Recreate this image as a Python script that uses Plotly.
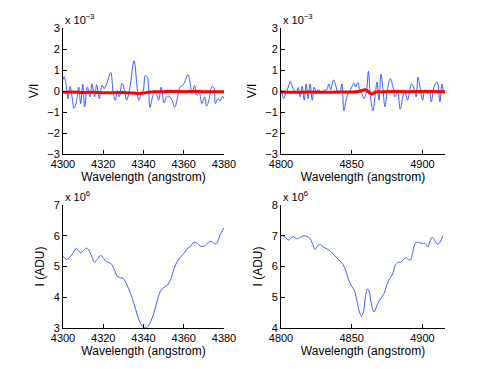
import plotly.graph_objects as go

# ---- top-left: V/I around H-gamma (units of 1e-3) ----
vi_left_wl = [4300.0, 4300.5, 4301.5, 4302.5, 4303.5, 4304.5, 4305.5, 4306.8, 4307.8, 4308.8,
              4309.8, 4310.8, 4312.1, 4313.4, 4314.4, 4315.7, 4316.7, 4318.0, 4319.4, 4320.4,
              4321.7, 4323.7, 4325.0, 4326.0, 4327.0, 4328.0, 4329.3, 4330.6, 4331.6, 4333.0,
              4335.3, 4336.6, 4337.6, 4338.9, 4339.9, 4340.9, 4341.9, 4343.2, 4344.5, 4345.8,
              4347.5, 4348.8, 4350.2, 4351.5, 4352.8, 4354.2, 4355.5, 4356.8, 4358.1, 4359.5,
              4360.8, 4362.1, 4363.1, 4364.1, 4365.4, 4366.4, 4367.7, 4369.0, 4370.4, 4371.4,
              4372.7, 4374.0, 4375.0, 4375.7, 4377.0, 4378.0, 4379.3, 4380.0]
vi_left = [0.55, 0.69, 0.34, -0.36, 0.22, -0.30, -0.83, -0.44, 0.19, -0.60,
           0.34, -0.75, 0.19, -0.28, 0.34, -0.28, 0.30, -0.36, 0.27, 0.11,
           0.34, 0.89, -0.12, -0.44, 0.03, -0.28, 0.37, 0.03, -0.44, 0.03,
           1.44, 0.42, -0.44, -0.12, 0.03, 0.73, 0.66, -0.78, -0.28, 0.03,
           -0.44, 0.19, -0.56, -0.28, -0.25, -0.44, -0.78, -0.36, 0.19, 0.27,
           0.50, 0.78, 0.42, -0.12, 0.27, -0.20, -0.09, -0.60, -0.28, -0.72,
           -0.36, 0.22, 0.16, -0.60, -0.36, -0.47, -0.25, -0.36]
vi_left_model_wl = [4300, 4305, 4310, 4315, 4320, 4325, 4330, 4335, 4338, 4341,
                    4345, 4350, 4355, 4360, 4365, 4370, 4380]
vi_left_model = [-0.06, -0.05, -0.07, -0.06, -0.08, -0.08, -0.07, -0.10, -0.12, -0.08,
                 -0.04, -0.03, -0.02, -0.03, -0.02, -0.03, -0.03]

# ---- top-right: V/I around H-beta (units of 1e-3) ----
vi_right_wl = [4800.5, 4801.9, 4803.3, 4805.2, 4806.6, 4808.0, 4809.4, 4810.8, 4812.2, 4813.6,
               4815.0, 4816.4, 4817.8, 4819.2, 4820.6, 4822.1, 4823.5, 4824.9, 4826.2, 4828.6,
               4830.5, 4832.4, 4833.8, 4835.2, 4837.1, 4839.0, 4840.4, 4841.8, 4843.1, 4844.5,
               4846.0, 4847.3, 4849.2, 4851.6, 4852.9, 4854.3, 4855.8, 4857.2, 4858.6, 4860.4,
               4861.8, 4863.2, 4865.0, 4866.5, 4867.9, 4869.3, 4870.7, 4872.1, 4873.5, 4875.4,
               4877.3, 4879.2, 4880.6, 4882.5, 4884.3, 4886.2, 4887.6, 4889.5, 4890.9, 4892.3,
               4893.7, 4895.6, 4896.9, 4898.3, 4900.2, 4901.6, 4903.4, 4904.9, 4906.3, 4907.7,
               4909.1, 4910.5, 4912.4, 4913.8, 4915.2, 4916.0]
vi_right = [0.03, -0.36, -0.12, 0.19, 0.47, 0.19, 0.03, -0.12, 0.16, -0.28,
            0.22, -0.44, 0.34, -0.36, 0.34, -0.44, 0.19, -0.05, 0.06, -0.05,
            0.03, 0.06, 0.34, 0.06, 0.53, 0.19, -0.12, -0.05, 0.34, -0.94,
            -0.44, -0.12, 0.06, 0.37, 0.19, 0.41, 0.03, -0.12, -0.36, -0.05,
            0.94, -0.20, -0.94, -0.28, 0.42, -0.44, 0.81, 0.11, -0.75, 0.11,
            0.60, 0.19, -0.28, -0.05, -0.87, -0.28, 0.03, -0.44, -0.05, 0.34,
            0.19, -0.28, 0.66, 0.19, -0.44, 0.06, -0.12, 0.03, -0.52, 0.03,
            0.34, 0.42, -0.52, 0.34, -0.12, 0.06]
vi_right_model_wl = [4800, 4810, 4820, 4830, 4840, 4850, 4855, 4858, 4860, 4862,
                     4864, 4867, 4875, 4890, 4905, 4916]
vi_right_model = [-0.05, -0.06, -0.05, -0.06, -0.05, -0.05, -0.02, 0.04, 0.05, -0.05,
                  -0.14, -0.05, -0.03, -0.03, -0.02, -0.03]

# ---- bottom-left: intensity around H-gamma (units of 1e6 ADU) ----
i_left_wl = [4300.0, 4301.8, 4304.3, 4306.5, 4308.8, 4311.8, 4313.7, 4315.6, 4317.0, 4318.7,
             4320.4, 4321.7, 4323.7, 4325.3, 4327.0, 4328.6, 4330.0, 4331.6, 4333.6, 4335.3,
             4337.0, 4338.6, 4340.2, 4341.9, 4343.5, 4345.2, 4346.9, 4348.5, 4350.2, 4351.8,
             4353.5, 4355.2, 4356.8, 4358.5, 4360.1, 4361.8, 4363.4, 4365.1, 4366.8, 4368.4,
             4370.1, 4371.7, 4373.4, 4375.0, 4376.4, 4378.0, 4379.9]
i_left = [5.34, 5.23, 5.37, 5.58, 5.45, 5.60, 5.42, 5.14, 5.23, 5.36,
          5.25, 5.15, 5.10, 4.93, 4.68, 4.64, 4.61, 4.42, 4.12, 3.79,
          3.41, 3.14, 3.01, 3.03, 3.20, 3.49, 3.90, 4.21, 4.32, 4.39,
          4.58, 4.93, 5.17, 5.32, 5.42, 5.58, 5.66, 5.79, 5.75, 5.66,
          5.66, 5.75, 5.82, 5.75, 5.75, 6.02, 6.25]

# ---- bottom-right: intensity around H-beta (units of 1e6 ADU) ----
i_right_wl = [4800.0, 4802.6, 4805.4, 4808.4, 4811.2, 4813.8, 4816.2, 4818.5, 4820.4, 4822.2,
              4824.1, 4825.5, 4827.4, 4829.7, 4832.6, 4835.4, 4838.2, 4841.0, 4843.8, 4845.7,
              4847.5, 4849.9, 4851.8, 4853.6, 4855.5, 4856.9, 4858.3, 4859.7, 4861.1, 4862.5,
              4863.9, 4865.8, 4867.7, 4869.6, 4871.4, 4873.3, 4875.2, 4877.0, 4878.9, 4880.8,
              4882.7, 4884.5, 4886.4, 4888.3, 4890.2, 4891.6, 4893.0, 4894.4, 4896.3, 4898.1,
              4900.0, 4901.9, 4903.7, 4905.2, 4907.0, 4908.9, 4910.8, 4912.6, 4914.5]
i_right = [7.01, 6.97, 6.86, 6.97, 6.90, 6.95, 7.00, 6.97, 6.91, 6.75,
           6.55, 6.64, 6.72, 6.64, 6.57, 6.48, 6.34, 6.21, 6.07, 5.88,
           5.61, 5.36, 5.23, 4.90, 4.52, 4.39, 4.52, 5.01, 5.27, 5.17,
           4.79, 4.52, 4.71, 4.90, 5.01, 5.17, 5.45, 5.61, 5.75, 6.04,
           6.14, 6.14, 6.21, 6.28, 6.23, 6.21, 6.42, 6.70, 6.80, 6.77,
           6.75, 6.75, 6.64, 6.80, 6.95, 6.84, 6.72, 6.80, 7.01]

blue = '#3a5cff'
red = '#ff0000'
fam = 'Liberation Sans, Arial'
tick_font = dict(family=fam, size=11, color='black')
title_font = dict(family=fam, size=12, color='black')

fig = go.Figure()
fig.add_trace(go.Scatter(x=vi_left_wl, y=vi_left, mode='lines', line=dict(color=blue, width=1, shape='spline'),
                         xaxis='x', yaxis='y'))
fig.add_trace(go.Scatter(x=vi_left_model_wl, y=vi_left_model, mode='lines', line=dict(color=red, width=3, shape='spline'),
                         xaxis='x', yaxis='y'))
fig.add_trace(go.Scatter(x=vi_right_wl, y=vi_right, mode='lines', line=dict(color=blue, width=1, shape='spline'),
                         xaxis='x2', yaxis='y2'))
fig.add_trace(go.Scatter(x=vi_right_model_wl, y=vi_right_model, mode='lines', line=dict(color=red, width=3, shape='spline'),
                         xaxis='x2', yaxis='y2'))
fig.add_trace(go.Scatter(x=i_left_wl, y=i_left, mode='lines', line=dict(color=blue, width=1, shape='spline'),
                         xaxis='x3', yaxis='y3'))
fig.add_trace(go.Scatter(x=i_right_wl, y=i_right, mode='lines', line=dict(color=blue, width=1, shape='spline'),
                         xaxis='x4', yaxis='y4'))

# the page body has an 8px margin, so the figure is sized to fit inside it
W, H = 483, 361
off = 8
left_dom = [(63 - off) / W, (224 - off) / W]
right_dom = [(281 - off) / W, (445 - off) / W]
top_dom = [1 - (154 - off) / H, 1 - (28 - off) / H]
bot_dom = [1 - (328 - off) / H, 1 - (205 - off) / H]

ax_common = dict(showline=True, linecolor='black', linewidth=1, ticks='inside', ticklen=4,
                 tickcolor='black', showgrid=False, zeroline=False, tickfont=tick_font,
                 automargin=False, mirror=False)
xtitle = dict(text='Wavelength (angstrom)', font=title_font, standoff=2)

fig.update_layout(
    width=W, height=H,
    paper_bgcolor='white', plot_bgcolor='white',
    margin=dict(l=0, r=0, t=0, b=0),
    showlegend=False,
    xaxis=dict(domain=left_dom, anchor='y', range=[4300, 4380], tickvals=[4300, 4320, 4340, 4360, 4380],
               title=xtitle, **ax_common),
    yaxis=dict(domain=top_dom, anchor='x', range=[-3, 3], tickvals=[-3, -2, -1, 0, 1, 2, 3],
               title=dict(text='V/I', font=title_font, standoff=6), **ax_common),
    xaxis2=dict(domain=right_dom, anchor='y2', range=[4800, 4916], tickvals=[4800, 4850, 4900],
                title=xtitle, **ax_common),
    yaxis2=dict(domain=top_dom, anchor='x2', range=[-3, 3], tickvals=[-3, -2, -1, 0, 1, 2, 3],
                title=dict(text='V/I', font=title_font, standoff=6), **ax_common),
    xaxis3=dict(domain=left_dom, anchor='y3', range=[4300, 4380], tickvals=[4300, 4320, 4340, 4360, 4380],
                title=xtitle, **ax_common),
    yaxis3=dict(domain=bot_dom, anchor='x3', range=[3, 7], tickvals=[3, 4, 5, 6, 7],
                title=dict(text='I (ADU)', font=title_font, standoff=6), **ax_common),
    xaxis4=dict(domain=right_dom, anchor='y4', range=[4800, 4916], tickvals=[4800, 4850, 4900],
                title=xtitle, **ax_common),
    yaxis4=dict(domain=bot_dom, anchor='x4', range=[4, 8], tickvals=[4, 5, 6, 7, 8],
                title=dict(text='I (ADU)', font=title_font, standoff=6), **ax_common),
)

exp_labels = [(left_dom[0], top_dom[1], 'x 10<sup>−3</sup>'),
              (right_dom[0], top_dom[1], 'x 10<sup>−3</sup>'),
              (left_dom[0], bot_dom[1], 'x 10<sup>6</sup>'),
              (right_dom[0], bot_dom[1], 'x 10<sup>6</sup>')]
for xp, yp, txt in exp_labels:
    fig.add_annotation(x=xp, y=yp, xref='paper', yref='paper', text=txt, showarrow=False,
                       xanchor='left', yanchor='bottom', yshift=0, font=tick_font)

fig.write_html("out.html")
